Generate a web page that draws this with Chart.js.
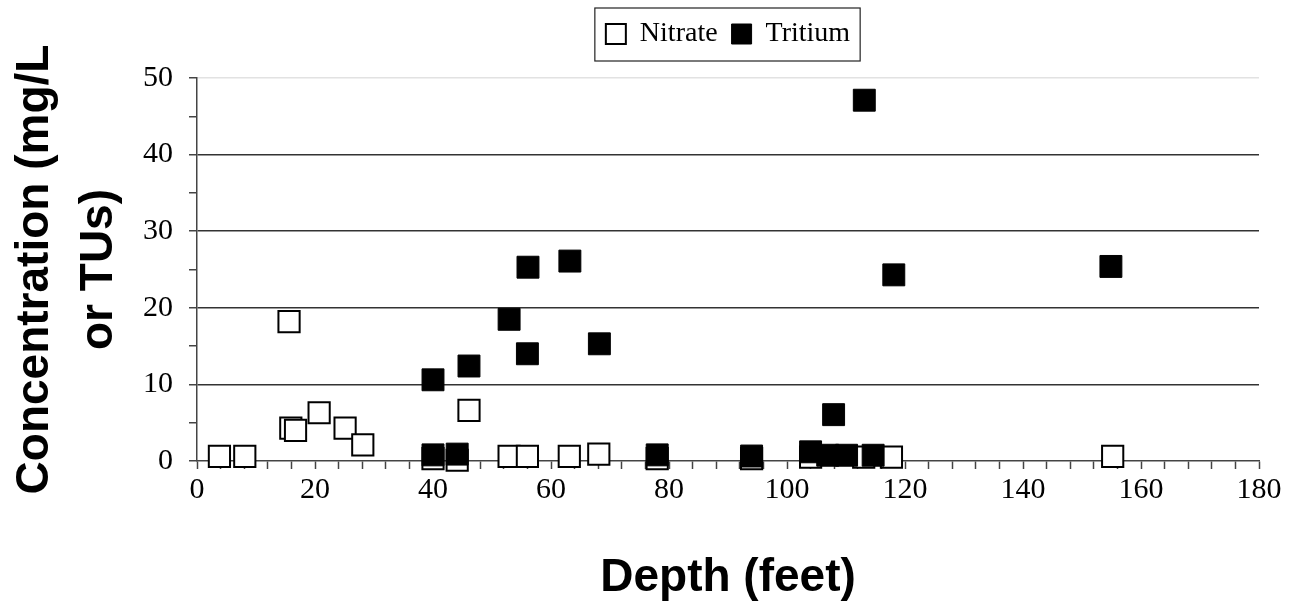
<!DOCTYPE html>
<html>
<head>
<meta charset="utf-8">
<title>Nitrate and tritium vs depth</title>
<script src="https://cdn.jsdelivr.net/npm/chart.js@4.4.1/dist/chart.umd.min.js"></script>
<style>
    body { margin: 0; background: #fff; }
    #wrap { width: 1301px; height: 607px; }
</style>
</head>
<body>
<div id="wrap"><canvas id="chart"></canvas></div>
<script>
// Values (depth in feet, concentration in mg/L or TUs)
const nitrateDepth = [3.8, 8.1, 15.6, 15.9, 16.7, 20.7, 25.1, 28.1, 40, 44.1, 46.1, 52.9, 56, 63.1, 68.1, 78, 94, 104, 113, 117.7, 155.2];
const nitrateConc  = [0.6, 0.6, 18.2, 4.3, 4.0, 6.3, 4.3, 2.1, 0.3, 0.1, 6.6, 0.6, 0.6, 0.6, 0.9, 0.3, 0.3, 0.5, 0.5, 0.5, 0.6];

const tritiumDepth = [40, 40, 44.1, 46.1, 52.9, 56, 56.1, 63.2, 68.2, 78, 94, 104, 106.9, 107.9, 110.1, 113.1, 114.6, 118.1, 154.9];
const tritiumConc  = [10.6, 0.8, 0.9, 12.4, 18.5, 14.0, 25.3, 26.1, 15.3, 0.8, 0.65, 1.2, 0.75, 6.05, 0.75, 47.1, 0.75, 24.3, 25.4];

const xTickLabels = [0, 20, 40, 60, 80, 100, 120, 140, 160, 180];
const yTickLabels = [0, 10, 20, 30, 40, 50];

function toPoints(xs, ys) {
    return xs.map((x, i) => ({ x: x, y: ys[i] }));
}

// keeps the legend row at a fixed height and draws the frame round it
const legendFrame = {
    id: 'legendFrame',
    beforeLayout(chart) {
        const lg = chart.legend;
        if (lg && !lg.patched) {
            const fit = lg.fit.bind(lg);
            lg.fit = function () { fit(); this.height = 72; };
            lg.patched = true;
        }
    },
    afterDraw(chart) {
        const boxes = chart.legend.legendHitBoxes;
        if (!boxes || !boxes.length) return;
        const first = boxes[0];
        const last = boxes[boxes.length - 1];
        const ctx = chart.ctx;
        ctx.save();
        ctx.strokeStyle = '#222';
        ctx.lineWidth = 1.2;
        const left = first.left - 11;
        const right = last.left + last.width + 10;
        ctx.strokeRect(left, 8, right - left, 53);
        ctx.restore();
    }
};

const serif = '"Liberation Serif", "Times New Roman", serif';
const sans = '"Liberation Sans", Arial, sans-serif';

new Chart(document.getElementById('chart'), {
    type: 'scatter',
    data: {
        datasets: [{
            label: 'Nitrate',
            data: toPoints(nitrateDepth, nitrateConc),
            order: 2, // drawn first, under the tritium squares
            pointStyle: 'rect',
            pointRadius: 15,
            pointHoverRadius: 15,
            backgroundColor: '#fff',
            borderColor: '#000',
            borderWidth: 2,
            clip: false
        }, {
            label: 'Tritium',
            data: toPoints(tritiumDepth, tritiumConc),
            order: 1,
            pointStyle: 'rect',
            pointRadius: 15.5,
            pointHoverRadius: 15.5,
            backgroundColor: '#000',
            borderColor: '#000',
            borderWidth: 1,
            clip: false
        }]
    },
    options: {
        responsive: true,
        maintainAspectRatio: false,
        animation: false,
        layout: { padding: { top: 6, right: 42, left: 0, bottom: 0 } },
        plugins: {
            tooltip: { enabled: false },
            legend: {
                position: 'top',
                fullSize: false,
                labels: {
                    color: '#000',
                    font: { family: serif, size: 28 },
                    boxWidth: 20,
                    boxHeight: 20,
                    padding: 14,
                    sort: (a, b) => a.datasetIndex - b.datasetIndex
                }
            }
        },
        scales: {
            x: {
                type: 'linear',
                min: 0,
                max: 180,
                afterFit(scale) { scale.height = 146; },
                border: { color: '#444', width: 1.5 },
                grid: {
                    drawOnChartArea: false,
                    drawTicks: true,
                    tickLength: 8,
                    tickColor: '#444',
                    tickWidth: 1.5
                },
                ticks: {
                    stepSize: 4,
                    autoSkip: false,
                    maxRotation: 0,
                    padding: 3,
                    color: '#000',
                    font: { family: serif, size: 30 },
                    callback: v => xTickLabels.includes(v) ? String(v) : ''
                },
                title: {
                    display: true,
                    text: 'Depth (feet)',
                    color: '#000',
                    font: { family: sans, size: 46, weight: 'bold', lineHeight: 1.2 },
                    padding: { top: 0, bottom: 1 }
                }
            },
            y: {
                type: 'linear',
                min: 0,
                max: 50,
                afterFit(scale) { scale.width = 197; },
                border: { color: '#444', width: 1.5 },
                grid: {
                    color: ctx => {
                        const v = ctx.tick.value;
                        if (v === 50) return '#e2e2e2';
                        if (v === 0 || v % 10 !== 0) return 'rgba(0,0,0,0)';
                        return '#333';
                    },
                    lineWidth: 1.5,
                    tickLength: 8,
                    tickColor: '#444',
                    tickWidth: 1.5
                },
                ticks: {
                    stepSize: 5,
                    autoSkip: false,
                    padding: 16,
                    color: '#000',
                    font: { family: serif, size: 30 },
                    callback: v => yTickLabels.includes(v) ? String(v) : ''
                },
                title: {
                    display: true,
                    text: ['Concentration (mg/L', 'or TUs)'],
                    color: '#000',
                    font: { family: sans, size: 46, weight: 'bold', lineHeight: 1.39 },
                    padding: { top: 3, bottom: 0 }
                }
            }
        }
    },
    plugins: [legendFrame]
});
</script>
</body>
</html>
